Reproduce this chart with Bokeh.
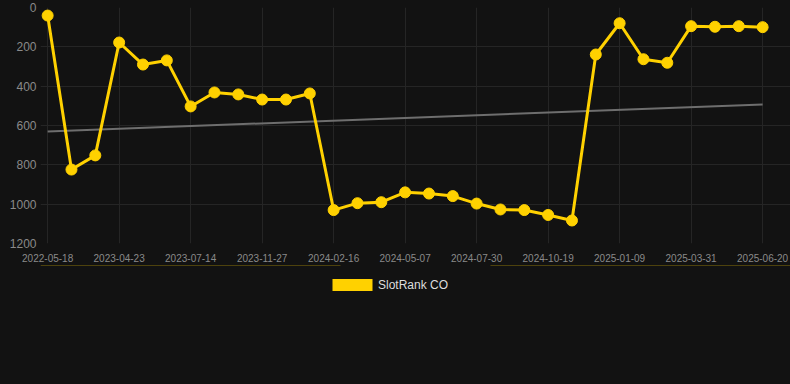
import numpy as np
from bokeh.plotting import figure
from bokeh.layouts import column
from bokeh.models import Range1d, FixedTicker, Legend, LegendItem
from bokeh.embed import file_html
from bokeh.resources import INLINE

# ---- data ----
tick_labels = ["2022-05-18", "2023-04-23", "2023-07-14", "2023-11-27",
               "2024-02-16", "2024-05-07", "2024-07-30", "2024-10-19",
               "2025-01-09", "2025-03-31", "2025-06-20"]
ranks = [41, 824, 752, 178, 290, 269, 503, 432, 442, 468, 468, 437,
         1030, 995, 990, 940, 946, 959, 997, 1027, 1030, 1055, 1083,
         239, 80, 263, 281, 95, 98, 95, 100]
y_ticks = [0, 200, 400, 600, 800, 1000, 1200]
series_name = "SlotRank CO"

YELLOW = "#ffd100"
BG = "#121212"
GRID = "#252525"
TEXT = "#8a8a8a"

x = list(range(len(ranks)))
tick_idx = x[::3]
slope, intercept = np.polyfit(x, ranks, 1)
trend_x = [x[0], x[-1]]
trend_y = [intercept + slope * v for v in trend_x]

p = figure(width=790, height=265, output_backend="svg", toolbar_location=None,
           x_range=Range1d(-0.3, 31.17), y_range=Range1d(1200, 0),
           background_fill_color=BG, border_fill_color=None,
           min_border_left=40, min_border_right=0, min_border_top=7,
           min_border_bottom=22, styles={"background-color": BG})
p.outline_line_color = None

p.xaxis.ticker = FixedTicker(ticks=tick_idx)
p.xaxis.major_label_overrides = {i: lab for i, lab in zip(tick_idx, tick_labels)}
p.yaxis.ticker = FixedTicker(ticks=y_ticks)

p.axis.axis_line_color = None
p.axis.major_tick_line_color = None
p.axis.minor_tick_line_color = None
p.axis.major_tick_out = 0
p.axis.major_tick_in = 0
p.axis.major_label_text_color = TEXT
p.axis.major_label_text_font = "Liberation Sans"
p.xaxis.major_label_text_font_size = "10px"
p.yaxis.major_label_text_font_size = "12px"
p.xaxis.major_label_standoff = 10
p.yaxis.major_label_standoff = 4

p.xgrid.grid_line_color = GRID
p.ygrid.grid_line_color = GRID

p.line(trend_x, trend_y, line_color="#6e6e6e", line_width=2)
p.line(x, ranks, line_color=YELLOW, line_width=3)
p.scatter(x, ranks, size=11, fill_color=YELLOW, line_color=YELLOW)

# legend strip underneath the chart (its swatch renderer lies outside the strip's view)
p2 = figure(width=790, height=119, output_backend="svg", toolbar_location=None,
            x_range=Range1d(0, 1), y_range=Range1d(-2, -1),
            x_axis_location=None, y_axis_location=None,
            background_fill_color=None, border_fill_color=None,
            min_border_left=0, min_border_right=0, min_border_top=0,
            min_border_bottom=0, styles={"background-color": BG})
p2.outline_line_color = None
p2.xgrid.visible = False
p2.ygrid.visible = False
swatch = p2.vbar(x=x, top=ranks, width=0.8, fill_color=YELLOW, line_color=None)
legend = Legend(items=[LegendItem(label=series_name, renderers=[swatch])],
                location=(281, 86), orientation="horizontal",
                glyph_width=50, glyph_height=15, label_height=15,
                label_standoff=1,
                label_text_color="#dddddd", label_text_font_size="12px",
                label_text_font="Liberation Sans",
                background_fill_alpha=0, border_line_alpha=0,
                padding=6, margin=0)
p2.add_layout(legend, "center")

layout = column(p, p2, spacing=0, styles={"background-color": BG})
html = file_html(layout, INLINE)
head, tag, tail = html.rpartition("<body>")
html = head + '<body style="background:%s">' % BG + tail
open("out.html", "w").write(html)
